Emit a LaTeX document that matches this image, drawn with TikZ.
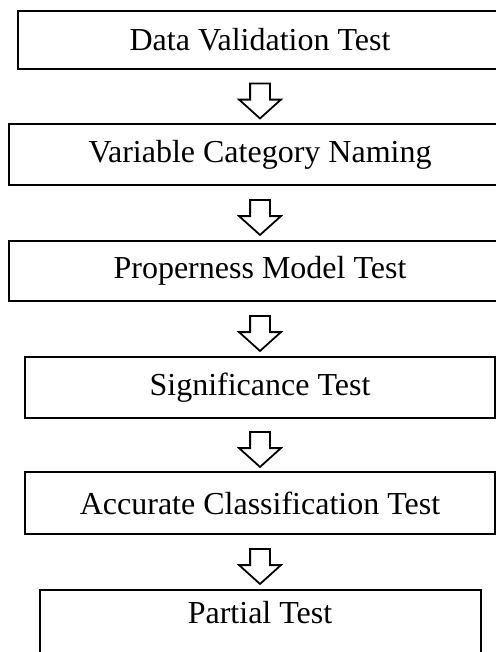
\documentclass[tikz,border=0pt]{standalone}
\usepackage{fontspec}
\setmainfont{Liberation Serif}
\usetikzlibrary{shapes,shapes.arrows}
\tikzstyle{stage}=[draw,rectangle,line width=1pt,inner sep=0pt,font=\fontsize{16}{19}\selectfont]
\tikzstyle{flow arrow}=[draw,line width=0.9pt,single arrow,rotate=-90,inner xsep=0pt,inner ysep=4.5pt,minimum height=17.5pt,minimum width=20pt,single arrow head extend=5.5pt,single arrow tip angle=96]
\begin{document}
\begin{tikzpicture}[x=0.5pt,y=-0.5pt]
    \useasboundingbox (0,0) rectangle (496,652);
    % Draw the test stages
    \foreach \pos/\name/\boxw/\boxh/\txt in {{(260,40)/data/242/29/Data Validation Test},
        {(260,154.5)/naming/251/30.5/Variable Category Naming},
        {(260,271)/properness/251/30/Properness Model Test},
        {(260,387.5)/significance/235/30.5/Significance Test},
        {(260,503)/accuracy/235/31/Accurate Classification Test}}
        \node[stage,minimum width=\boxw pt,minimum height=\boxh pt] (\name) at \pos {\txt};

    % last stage runs off the bottom
    \node[stage,anchor=north,minimum width=220.5pt,inner ysep=5.5pt,text height=11pt,text depth=40pt] (partial) at (260,589) {Partial Test};

    % Connect stages with block arrows
    \foreach \source/\dest in {data/naming,naming/properness,properness/significance,significance/accuracy,accuracy/partial}
        \path (\source.south) -- node[flow arrow] {} (\dest.north);
\end{tikzpicture}
\end{document}
